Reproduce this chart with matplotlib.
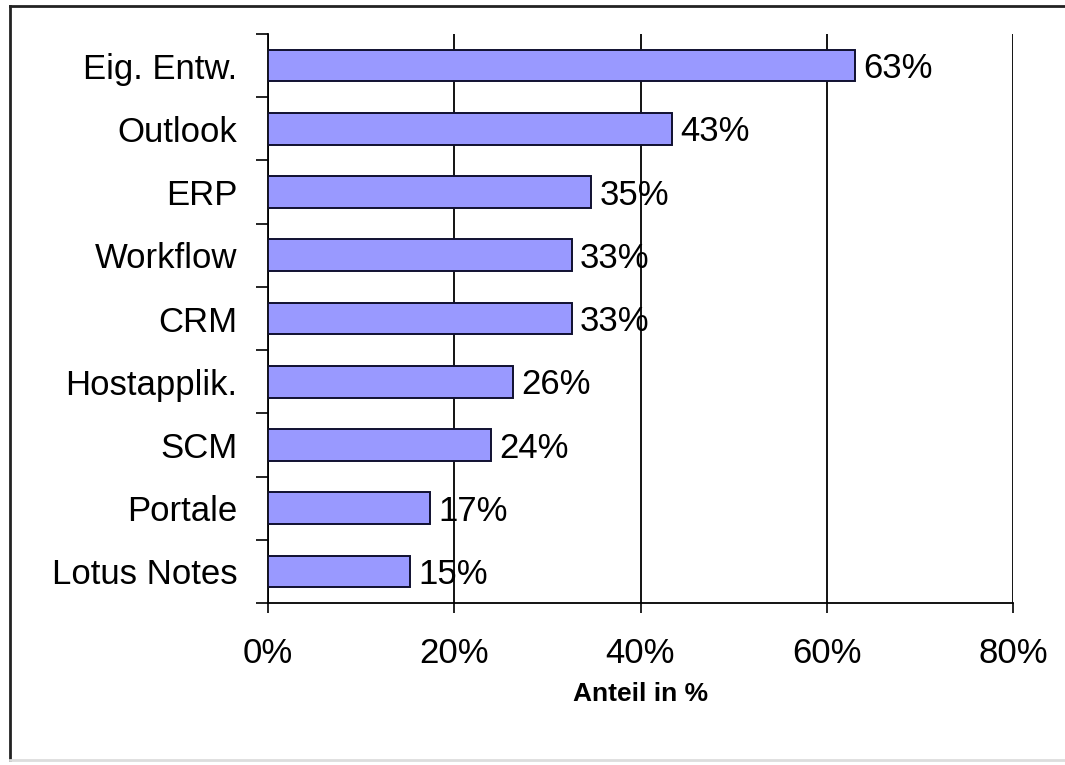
import numpy as np
import matplotlib
matplotlib.use("Agg")
import matplotlib.pyplot as plt
from matplotlib.lines import Line2D

# daten (von oben nach unten)
kategorien = ['Eig. Entw.', 'Outlook', 'ERP', 'Workflow', 'CRM',
              'Hostapplik.', 'SCM', 'Portale', 'Lotus Notes']
anteil = [63.0, 43.4, 34.7, 32.6, 32.6, 26.3, 23.9, 17.4, 15.3]
xticks = [0, 20, 40, 60, 80]

plt.rcParams['font.family'] = ['Liberation Sans', 'DejaVu Sans']

fig = plt.figure(figsize=(10.65, 7.65), dpi=100)
ax = fig.add_axes([268/1065, 1-603/765, (1013-268)/1065, (603-34)/765])

n = len(kategorien)
pos = np.arange(n)[::-1]  # erster oben
ax.barh(pos, anteil, height=0.5, color='#9999ff', edgecolor='#101030',
        linewidth=1.4, zorder=3)

for p, v in zip(pos, anteil):
    ax.text(v + 0.9, p - 0.05, '%.0f%%' % v, va='center', ha='left', fontsize=25, zorder=4)

ax.set_xlim(0, 80)
ax.set_ylim(-0.5, n - 0.5)

ax.set_xticks(xticks)
ax.set_xticklabels(['%d%%' % t for t in xticks], fontsize=25)
ax.set_yticks(pos)
ax.set_yticklabels(kategorien, fontsize=25)
ax.set_yticks(np.arange(n + 1) - 0.5, minor=True)

ax.tick_params(axis='y', which='major', length=0, pad=22)
ax.tick_params(axis='y', which='minor', length=8.6, width=1.2, direction='out')
ax.tick_params(axis='x', which='major', length=7.2, width=1.2, direction='out', pad=17)

ax.grid(axis='x', color='black', linewidth=1.3, zorder=0)
ax.set_axisbelow(True)

for s in ['top', 'right']:
    ax.spines[s].set_visible(False)
for s in ['left', 'bottom']:
    ax.spines[s].set_linewidth(1.3)

ax.set_xlabel('Anteil in %', fontsize=19, fontweight='bold', labelpad=9)

# rahmen um das bild
fig.add_artist(Line2D([10/1065, 1], [1-6/765, 1-6/765], color='#222222', linewidth=2,
                      transform=fig.transFigure))
fig.add_artist(Line2D([10/1065, 10/1065], [5/765, 1-6/765], color='#222222', linewidth=2,
                      transform=fig.transFigure))
fig.add_artist(Line2D([10/1065, 1], [5/765, 5/765], color='#dddddd', linewidth=2,
                      transform=fig.transFigure))

fig.savefig('out.png', dpi=100)
